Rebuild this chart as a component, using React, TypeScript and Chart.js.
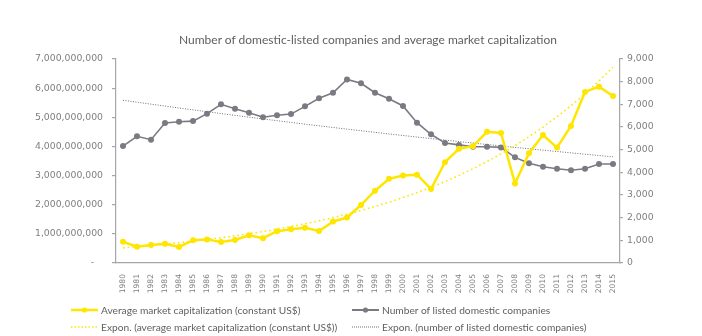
import React, { useEffect, useRef } from "react";
import { Chart, registerables } from "chart.js";

Chart.register(...registerables);

const years = [
  "1980", "1981", "1982", "1983", "1984", "1985", "1986", "1987", "1988", "1989",
  "1990", "1991", "1992", "1993", "1994", "1995", "1996", "1997", "1998", "1999",
  "2000", "2001", "2002", "2003", "2004", "2005", "2006", "2007", "2008", "2009",
  "2010", "2011", "2012", "2013", "2014", "2015",
];

const avgMarketCap = [
  730e6, 560e6, 620e6, 660e6, 550e6, 780e6, 810e6, 720e6, 790e6, 950e6,
  850e6, 1090e6, 1160e6, 1210e6, 1100e6, 1420e6, 1560e6, 1990e6, 2480e6, 2890e6,
  3000e6, 3030e6, 2540e6, 3460e6, 3920e6, 4010e6, 4500e6, 4460e6, 2730e6, 3770e6,
  4390e6, 3960e6, 4700e6, 5870e6, 6050e6, 5730e6,
];

const listedCompanies = [
  5160, 5590, 5440, 6180, 6230, 6260, 6590, 7000, 6810, 6630,
  6430, 6520, 6570, 6910, 7270, 7510, 8100, 7930, 7510, 7250,
  6930, 6190, 5680, 5290, 5210, 5130, 5130, 5100, 4660, 4400,
  4250, 4160, 4090, 4160, 4370, 4370,
];

const title = "Number of domestic-listed companies and average market capitalization";
const labelCap = "Average market capitalization (constant US$)";
const labelCos = "Number of listed domestic companies";
const labelCapTrend = "Expon. (average market capitalization (constant US$))";
const labelCosTrend = "Expon. (number of listed domestic companies)";

const YELLOW = "#FFE600";
const GREY = "#7a7a82";
const GREY_TREND = "#6f6f75";
const AXIS = "#a6a6a6";
const TICK = "#7f7f7f";
const TEXT = "#5f5f5f";

// Exponential least-squares trend (as Excel's "Expon." trendline), from the data
function expTrend(values: number[]): number[] {
  const n = values.length;
  const xs = values.map((_, i) => i + 1);
  const ys = values.map((v) => Math.log(v));
  const mx = xs.reduce((a, b) => a + b, 0) / n;
  const my = ys.reduce((a, b) => a + b, 0) / n;
  let sxy = 0;
  let sxx = 0;
  for (let i = 0; i < n; i++) {
    sxy += (xs[i] - mx) * (ys[i] - my);
    sxx += (xs[i] - mx) * (xs[i] - mx);
  }
  const b = sxy / sxx;
  const a = my - b * mx;
  return xs.map((x) => Math.exp(a + b * x));
}

const tickFont = { family: "'DejaVu Sans', Verdana, sans-serif", size: 9.3 };

function LegendItem(props: {
  x: number;
  y: number;
  color: string;
  width: number;
  dash?: string;
  marker?: boolean;
  text: string;
}) {
  const { x, y, color, width, dash, marker, text } = props;
  return (
    <div
      style={{
        position: "absolute",
        left: x,
        top: y - 8,
        height: 16,
        display: "flex",
        alignItems: "center",
        whiteSpace: "nowrap",
      }}
    >
      <svg width={27} height={10} style={{ display: "block", marginRight: 3 }}>
        <line
          x1={0}
          y1={5}
          x2={27}
          y2={5}
          stroke={color}
          strokeWidth={width}
          strokeDasharray={dash}
        />
        {marker ? <circle cx={13.5} cy={5} r={2.6} fill={color} /> : null}
      </svg>
      <span
        style={{
          fontFamily: "Lato, 'Open Sans', sans-serif",
          fontSize: 10.2,
          color: TEXT,
          lineHeight: "16px",
        }}
      >
        {text}
      </span>
    </div>
  );
}

export default function App() {
  const canvasRef = useRef<HTMLCanvasElement | null>(null);

  useEffect(() => {
    document.body.style.margin = "0";
    const canvas = canvasRef.current;
    if (!canvas) return;
    const chart = new Chart(canvas, {
      type: "line",
      data: {
        labels: years,
        datasets: [
          {
            label: labelCap,
            data: avgMarketCap,
            yAxisID: "yLeft",
            borderColor: YELLOW,
            backgroundColor: YELLOW,
            borderWidth: 2.5,
            pointRadius: 3,
            pointBorderWidth: 0,
            pointBackgroundColor: YELLOW,
            tension: 0,
            order: 1,
          },
          {
            label: labelCos,
            data: listedCompanies,
            yAxisID: "yRight",
            borderColor: GREY,
            backgroundColor: GREY,
            borderWidth: 1.6,
            pointRadius: 3,
            pointBorderWidth: 0,
            pointBackgroundColor: GREY,
            tension: 0,
            order: 2,
          },
          {
            label: labelCapTrend,
            data: expTrend(avgMarketCap),
            yAxisID: "yLeft",
            borderColor: YELLOW,
            borderWidth: 1.6,
            borderDash: [1.6, 3],
            pointRadius: 0,
            tension: 0,
            order: 3,
          },
          {
            label: labelCosTrend,
            data: expTrend(listedCompanies),
            yAxisID: "yRight",
            borderColor: GREY_TREND,
            borderWidth: 1,
            borderDash: [1, 1.5],
            pointRadius: 0,
            tension: 0,
            order: 4,
          },
        ],
      },
      options: {
        responsive: false,
        animation: false,
        devicePixelRatio: 1,
        layout: { padding: { top: 59, bottom: 33, left: 0, right: 0 } },
        plugins: {
          legend: { display: false },
          title: { display: false },
          tooltip: { enabled: false },
        },
        scales: {
          x: {
            offset: true,
            grid: { display: false },
            border: { display: true, color: AXIS, width: 1.2 },
            ticks: {
              minRotation: 90,
              maxRotation: 90,
              autoSkip: false,
              padding: 3,
              font: { family: "'DejaVu Sans', Verdana, sans-serif", size: 7.6 },
              color: TICK,
            },
            afterFit: (s: any) => {
              s.height = 40;
            },
          },
          yLeft: {
            position: "left",
            min: 0,
            max: 7e9,
            ticks: {
              stepSize: 1e9,
              padding: 9,
              font: tickFont,
              color: TICK,
              callback: (v: any) => (Number(v) === 0 ? "-   " : Number(v).toLocaleString("en-US")),
            },
            grid: { drawOnChartArea: false, tickLength: 4, color: AXIS, lineWidth: 1.2 },
            border: { color: AXIS, width: 1.2 },
            afterFit: (s: any) => {
              s.width = 116;
            },
          },
          yRight: {
            position: "right",
            min: 0,
            max: 9000,
            ticks: {
              stepSize: 1000,
              padding: 4,
              font: tickFont,
              color: TICK,
              callback: (v: any) => Number(v).toLocaleString("en-US"),
            },
            grid: { drawOnChartArea: false, tickLength: 3, color: AXIS, lineWidth: 1.2 },
            border: { color: AXIS, width: 1.2 },
            afterFit: (s: any) => {
              s.width = 82;
            },
          },
        },
      } as any,
    });
    return () => chart.destroy();
  }, []);

  return (
    <div style={{ position: "fixed", left: 0, top: 0, width: 702, height: 336, background: "#fff" }}>
      <canvas ref={canvasRef} width={702} height={336} style={{ position: "absolute", left: 0, top: 0 }} />
      <div
        style={{
          position: "absolute",
          left: 116,
          width: 504,
          top: 32,
          textAlign: "center",
          fontFamily: "Lato, 'Open Sans', sans-serif",
          fontSize: 12,
          lineHeight: "16px",
          color: TEXT,
          whiteSpace: "nowrap",
        }}
      >
        {title}
      </div>
      <LegendItem x={71} y={310} color={YELLOW} width={2.5} marker text={labelCap} />
      <LegendItem x={352} y={310} color={GREY} width={2} marker text={labelCos} />
      <LegendItem x={71} y={327} color={YELLOW} width={1.5} dash="1.5 2" text={labelCapTrend} />
      <LegendItem x={352} y={327} color={GREY_TREND} width={1} dash="1 1" text={labelCosTrend} />
    </div>
  );
}
